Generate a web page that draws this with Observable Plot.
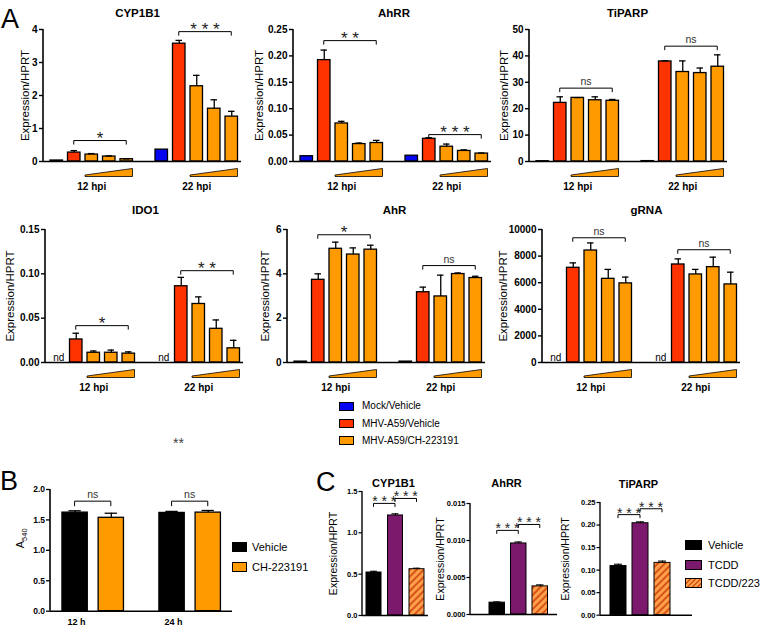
<!DOCTYPE html>
<html>
<head>
<meta charset="utf-8">
<script src="https://cdn.jsdelivr.net/npm/d3@7"></script>
<script src="https://cdn.jsdelivr.net/npm/@observablehq/plot@0.6"></script>
<style>
html,body{margin:0;padding:0;background:#fff;}
#fig{position:relative;width:760px;height:627px;overflow:hidden;background:#fff;font-family:"Liberation Sans",Arial,Helvetica,sans-serif;color:#000;}
.chart{position:absolute;}
.chart svg{display:block;max-width:none;overflow:visible;background:none;}
.legtxt{position:absolute;white-space:nowrap;transform:translateY(-50%);line-height:1;}
.sw{position:absolute;box-sizing:border-box;border:1px solid #000;}
</style>
</head>
<body>
<svg width="0" height="0" style="position:absolute">
  <defs>
    <pattern id="hatch" patternUnits="userSpaceOnUse" width="5" height="5" patternTransform="rotate(45)">
      <rect width="5" height="5" fill="#ffa04a"></rect>
      <rect width="2" height="5" fill="#d8531a"></rect>
    </pattern>
  </defs>
</svg>
<div id="fig"></div>
<script>
// ================= DATA =================
// Panel A
const genesA = ["CYP1B1", "AhRR", "TiPARP", "IDO1", "AhR", "gRNA"];
const timesA = ["12 hpi", "22 hpi"];
const condA = ["Mock/Vehicle", "MHV-A59/Vehicle", "MHV-A59/CH-223191", "MHV-A59/CH-223191", "MHV-A59/CH-223191"];
const legendA = ["Mock/Vehicle", "MHV-A59/Vehicle", "MHV-A59/CH-223191"];
// values: 12 hpi (mock, vehicle, CH low, mid, high), 22 hpi (same)
const cyp1b1Mean = [0.03, 0.27, 0.21, 0.15, 0.07, 0.36, 3.57, 2.28, 1.60, 1.36];
const cyp1b1Err  = [0, 0.06, 0.03, 0.02, 0.01, 0, 0.10, 0.33, 0.27, 0.16];
const ahrrMean = [0.010, 0.192, 0.072, 0.033, 0.035, 0.011, 0.043, 0.028, 0.020, 0.015];
const ahrrErr  = [0, 0.019, 0.004, 0.002, 0.005, 0, 0.002, 0.005, 0.002, 0.001];
const tiparpMean = [0.1, 22.2, 24.1, 23.2, 23.0, 0.15, 37.9, 33.9, 33.5, 35.9];
const tiparpErr  = [0, 2.3, 0.1, 1.3, 0.5, 0, 0.2, 4.2, 1.9, 4.5];
const ido1Mean = [null, 0.026, 0.011, 0.011, 0.010, null, 0.086, 0.066, 0.038, 0.016];
const ido1Err  = [null, 0.007, 0.002, 0.003, 0.002, null, 0.010, 0.008, 0.010, 0.009];
const ahrMean = [0.04, 3.73, 5.13, 4.87, 5.09, 0.04, 3.17, 2.98, 3.99, 3.81];
const ahrErr  = [0, 0.27, 0.30, 0.30, 0.20, 0, 0.23, 0.96, 0.05, 0.08];
const grnaMean = [null, 7120, 8420, 6290, 5950, null, 7370, 6620, 7170, 5870];
const grnaErr  = [null, 370, 570, 710, 470, null, 420, 380, 750, 920];
const meansA = [cyp1b1Mean, ahrrMean, tiparpMean, ido1Mean, ahrMean, grnaMean];
const errsA = [cyp1b1Err, ahrrErr, tiparpErr, ido1Err, ahrErr, grnaErr];
const yMaxA = [4, 0.25, 50, 0.15, 6, 10000];
const yStepA = [1, 0.05, 10, 0.05, 2, 2000];
const sigLabelsA = [["*", "***"], ["**", "***"], ["ns", "ns"], ["*", "**"], ["*", "ns"], ["ns", "ns"]];
const sigLevelsA = [[0.62, 3.92], [0.228, 0.050], [27.6, 43.5], [0.041, 0.103], [5.74, 4.35], [9340, 8440]];

// Panel B
const timesB = ["12 h", "24 h"];
const treatB = ["Vehicle", "CH-223191"];
const meanB = [1.62, 1.535, 1.615, 1.62];
const errB = [0.03, 0.075, 0.025, 0.035];
const sigLabelsB = ["ns", "ns"];
const sigLevelsB = [1.80, 1.80];

// Panel C
const genesC = ["CYP1B1", "AhRR", "TiPARP"];
const treatC = ["Vehicle", "TCDD", "TCDD/223"];
const cyp1b1C = [0.52, 1.21, 0.56];
const cyp1b1CErr = [0.015, 0.02, 0.012];
const ahrrC = [0.0016, 0.0096, 0.0038];
const ahrrCErr = [0.0001, 0.0002, 0.0002];
const tiparpC = [0.109, 0.204, 0.116];
const tiparpCErr = [0.004, 0.003, 0.004];
const meansC = [cyp1b1C, ahrrC, tiparpC];
const errsC = [cyp1b1CErr, ahrrCErr, tiparpCErr];
const yMaxC = [1.5, 0.015, 0.25];
const yStepC = [0.5, 0.005, 0.05];
const sigLabelsC = [["***", "***"], ["***", "***"], ["***", "***"]];
const sigLevelsC = [[1.35, 1.41], [0.0113, 0.0121], [0.222, 0.235]];

// ================= STYLE / LAYOUT =================
const colorsA = ["#0505f0", "#ff3300", "#ff9a00"];
const colorsB = ["#000000", "#ff9a00"];
const fillsC = ["#000000", "#7b1a6c", "url(#hatch)"];
const FONT = "'Liberation Sans', Arial, Helvetica, sans-serif";
const svgStyle = {fontFamily: FONT, fontSize: "10px", background: "none", overflow: "visible", color: "#000", maxWidth: "none"};

const fig = document.getElementById("fig");
function place(node, left, top) {
  // make the y-axis tick labels bold like the reference
  node.querySelectorAll('g[aria-label*="tick label"] text, g[aria-label*="tick label"]').forEach(el => {
    el.setAttribute("font-weight", "bold");
    el.style.fontWeight = "bold";
  });
  const div = document.createElement("div");
  div.className = "chart";
  div.style.left = left + "px";
  div.style.top = top + "px";
  div.appendChild(node);
  fig.appendChild(div);
}
function bandOpts(domain, g) {
  const n = domain.length, W = g.frameRight - g.axisX;
  const p = 1 - g.barW / g.step;
  const o = (W / g.step - n + p) / 2;
  const align = o > 0 ? Math.min(1, Math.max(0, (g.firstBar - g.axisX) / (2 * o * g.step))) : 0.5;
  return {type: "band", domain, paddingInner: p, paddingOuter: o, align, round: false, axis: null};
}
function ticksFor(max, step) { return d3.range(0, max + step / 2, step).map(v => +v.toFixed(6)); }
function axisLine(yMax, sw) {
  return (index, s, values, d) => {
    const g = d3.create("svg:g");
    g.append("line").attr("x1", d.marginLeft).attr("x2", d.marginLeft)
      .attr("y1", s.y(yMax)).attr("y2", s.y(0)).attr("stroke", "#000").attr("stroke-width", sw);
    return g.node();
  };
}
function bracketMark(items, o) {
  return (index, s, values, d) => {
    const g = d3.create("svg:g");
    const bw = s.x.bandwidth ? s.x.bandwidth() / 2 : 0;
    for (const it of items) {
      const xa = s.x(it.a) + bw, xb = s.x(it.b) + bw, y = s.y(it.y);
      g.append("path").attr("d", `M${xa},${y + o.tick}V${y}H${xb}V${y + o.tick}`)
        .attr("fill", "none").attr("stroke", "#000").attr("stroke-width", o.sw);
      const star = it.text.includes("*");
      g.append("text").attr("x", (xa + xb) / 2).attr("y", star ? y + o.starDy : y - o.nsGap)
        .attr("text-anchor", "middle").attr("font-size", star ? o.starSize : o.nsSize)
        .attr("fill", star ? "#222" : "#333")
        .text(star ? it.text.split("").join(" ") : it.text);
    }
    return g.node();
  };
}
function wedgeMark(items, fill) {
  return (index, s, values, d) => {
    const g = d3.create("svg:g");
    const bw = s.x.bandwidth();
    const y0 = s.y(0);
    for (const it of items) {
      const L = s.x(it.a), R = s.x(it.b) + bw;
      g.append("path").attr("d", `M${L},${y0 + 14}L${R},${y0 + 7.5}L${R},${y0 + 15.5}L${L},${y0 + 15.5}Z`)
        .attr("fill", fill).attr("stroke", "#000").attr("stroke-width", 0.8);
    }
    return g.node();
  };
}

// ================= PANEL A =================
const slotA = ["s0", "s1", "s2", "s3", "s4", "gap", "s6", "s7", "s8", "s9", "s10"];
const slotOf = (t, k) => slotA[t * 6 + k];
const axisXA = [43, 293, 529, 45, 287, 542];
const rowGeomA = [{top: 28.5, zero: 160.5, titleDy: -16.5}, {top: 228.5, zero: 361.5, titleDy: -19.5}];
const titleDxA = [-5, 1.5, -1, 1, 8, 5];
const ylabDxA = [-18, -34, -25, -35, -22, -39];
const fmtA = ["d", ".2f", "d", ".2f", "d", "d"];

genesA.forEach((gene, i) => {
  const rows = [];
  timesA.forEach((tl, t) => condA.forEach((c, k) => {
    const idx = t * 5 + k;
    rows.push({slot: slotOf(t, k), cond: c, mean: meansA[i][idx], err: errsA[i][idx]});
  }));
  const barRows = rows.filter(d => d.mean != null);
  const errRows = barRows.filter(d => d.err > 0);
  const ndRows = rows.filter(d => d.mean == null);
  const sig = timesA.map((tl, t) => ({a: slotOf(t, 1), b: slotOf(t, 4), y: sigLevelsA[i][t], text: sigLabelsA[i][t]}));
  const wedges = timesA.map((tl, t) => ({a: slotOf(t, 2), b: slotOf(t, 4)}));
  const timeRows = timesA.map((tl, t) => ({slot: slotOf(t, 2), label: tl}));
  const geom = {axisX: axisXA[i], firstBar: axisXA[i] + 7, step: 17.5, barW: 12.5, frameRight: axisXA[i] + 198};
  const row = rowGeomA[i < 3 ? 0 : 1];
  const mL = 50, mT = 30, mR = 6, mB = 40;
  const plot = Plot.plot({
    width: mL + 198 + mR, height: mT + (row.zero - row.top) + mB,
    marginLeft: mL, marginTop: mT, marginRight: mR, marginBottom: mB,
    style: svgStyle,
    x: bandOpts(slotA, geom),
    y: {domain: [0, yMaxA[i]]},
    color: {domain: legendA, range: colorsA},
    marks: [
      Plot.barY(barRows, {x: "slot", y: "mean", fill: "cond", stroke: "#000", strokeWidth: 1.3}),
      Plot.ruleX(errRows, {x: "slot", y1: "mean", y2: d => d.mean + d.err, stroke: "#000", strokeWidth: 1.3}),
      Plot.tickY(errRows, {x: "slot", y: d => d.mean + d.err, insetLeft: 3, insetRight: 3, stroke: "#000", strokeWidth: 1.3}),
      Plot.ruleY([0], {stroke: "#000", strokeWidth: 1.6}),
      Plot.axisY({ticks: ticksFor(yMaxA[i], yStepA[i]), tickFormat: d3.format(fmtA[i]), tickSize: 4, tickPadding: 2,
        fontSize: 10, fontWeight: "bold", label: null, strokeWidth: 1.4}),
      axisLine(yMaxA[i], 1.6),
      bracketMark(sig, {tick: 4, sw: 1, starDy: 3.5, nsGap: 3, starSize: 17, nsSize: 10.5}),
      wedgeMark(wedges, colorsA[2]),
      Plot.text(timeRows, {x: "slot", text: "label", frameAnchor: "bottom", lineAnchor: "middle", dy: 25, fontWeight: "bold", fontSize: 10}),
      Plot.text(ndRows, {x: "slot", y: 0, text: () => "nd", lineAnchor: "middle", dy: -5, fontSize: 10}),
      Plot.text([gene], {text: d => d, frameAnchor: "top", lineAnchor: "middle", textAnchor: "middle", dy: row.titleDy, dx: titleDxA[i], fontWeight: "bold", fontSize: 11.5}),
      Plot.text(["Expression/HPRT"], {text: d => d, frameAnchor: "left", lineAnchor: "middle", textAnchor: "middle", rotate: -90, dx: ylabDxA[i], fontSize: 11.5})
    ]
  });
  place(plot, geom.axisX - mL, row.top - mT);
});

// ================= PANEL B =================
{
  const groupGap = 2.68;
  const rows = [];
  timesB.forEach((tl, t) => treatB.forEach((tr, k) => {
    rows.push({pos: t * groupGap + k, treat: tr, mean: meanB[t * 2 + k], err: errB[t * 2 + k]});
  }));
  const sig = timesB.map((tl, t) => ({a: t * groupGap, b: t * groupGap + 1, y: sigLevelsB[t], text: sigLabelsB[t]}));
  const timeRows = timesB.map((tl, t) => ({pos: t * groupGap + 0.04, label: tl}));
  const top = 489.3, zero = 611, axisX = 50, frameRight = 232;
  const mL = 50, mT = 25, mR = 5, mB = 16;
  const plot = Plot.plot({
    width: mL + (frameRight - axisX) + mR, height: mT + (zero - top) + mB,
    marginLeft: mL, marginTop: mT, marginRight: mR, marginBottom: mB,
    style: svgStyle,
    x: {domain: [-0.68, 4.35], axis: null},
    y: {domain: [0, 2]},
    color: {domain: treatB, range: colorsB},
    marks: [
      Plot.rectY(rows, {x1: d => d.pos - 0.35, x2: d => d.pos + 0.35, y: "mean", fill: "treat", stroke: "#000", strokeWidth: 1.3}),
      Plot.ruleX(rows, {x: "pos", y1: "mean", y2: d => d.mean + d.err, stroke: "#000", strokeWidth: 1.3}),
      Plot.ruleY(rows, {x1: d => d.pos - 0.17, x2: d => d.pos + 0.17, y: d => d.mean + d.err, stroke: "#000", strokeWidth: 1.3}),
      Plot.ruleY([0], {stroke: "#000", strokeWidth: 1.6}),
      Plot.axisY({ticks: ticksFor(2, 0.5), tickFormat: d3.format(".1f"), tickSize: 4, tickPadding: 1.5,
        fontSize: 8.5, fontWeight: "bold", label: null, strokeWidth: 1.3}),
      axisLine(2, 1.6),
      bracketMark(sig, {tick: 5, sw: 1, starDy: 3.5, nsGap: 3, starSize: 17, nsSize: 10.5}),
      Plot.text(timeRows, {x: "pos", text: "label", frameAnchor: "bottom", lineAnchor: "middle", dy: 11, fontWeight: "bold", fontSize: 9}),
      (index, s, values, d) => {
        const g = d3.create("svg:g");
        const t = g.append("text").attr("transform", `translate(24,${(s.y(2) + s.y(0)) / 2 - 11.5}) rotate(-90)`)
          .attr("text-anchor", "middle").attr("font-size", 11);
        t.append("tspan").text("A");
        t.append("tspan").attr("dy", 3).attr("font-size", 7.5).text("540");
        return g.node();
      }
    ]
  });
  place(plot, axisX - mL, top - mT);
}

// ================= PANEL C =================
const geomC = [
  {axisX: 362, top: 491, zero: 615, firstBar: 366, step: 21.5, barW: 15, frameRight: 428},
  {axisX: 470, top: 503.3, zero: 614.3, firstBar: 489, step: 21.5, barW: 15.5, frameRight: 557},
  {axisX: 600, top: 502.3, zero: 615, firstBar: 610, step: 22, barW: 16, frameRight: 692}
];
const titleYC = [483, 483, 484];
const titleDxC = [-2, -7.5, -8];
const ylabDxC = [-29, -30, -35];
const fmtC = [".1f", ".3f", ".2f"];
genesC.forEach((gene, i) => {
  const g = geomC[i];
  const rows = treatC.map((tr, k) => ({treat: tr, mean: meansC[i][k], err: errsC[i][k]}));
  const sig = [
    {a: treatC[0], b: treatC[1], y: sigLevelsC[i][0], text: sigLabelsC[i][0]},
    {a: treatC[1], b: treatC[2], y: sigLevelsC[i][1], text: sigLabelsC[i][1]}
  ];
  const mL = 45, mT = 28, mR = 5, mB = 10;
  const plot = Plot.plot({
    width: mL + (g.frameRight - g.axisX) + mR, height: mT + (g.zero - g.top) + mB,
    marginLeft: mL, marginTop: mT, marginRight: mR, marginBottom: mB,
    style: svgStyle,
    x: bandOpts(treatC, g),
    y: {domain: [0, yMaxC[i]]},
    color: {domain: treatC, range: fillsC},
    marks: [
      Plot.barY(rows, {x: "treat", y: "mean", fill: "treat", stroke: "#000", strokeWidth: 1}),
      Plot.ruleX(rows, {x: "treat", y1: "mean", y2: d => d.mean + d.err, stroke: "#000", strokeWidth: 1.1}),
      Plot.tickY(rows, {x: "treat", y: d => d.mean + d.err, insetLeft: 4, insetRight: 4, stroke: "#000", strokeWidth: 1.1}),
      Plot.ruleY([0], {stroke: "#000", strokeWidth: 1.4}),
      Plot.axisY({ticks: ticksFor(yMaxC[i], yStepC[i]), tickFormat: d3.format(fmtC[i]), tickSize: 3.5, tickPadding: 1.5,
        fontSize: 7.5, fontWeight: "bold", label: null, strokeWidth: 1.2}),
      axisLine(yMaxC[i], 1.4),
      bracketMark(sig, {tick: 3.5, sw: 1, starDy: 3, nsGap: 3, starSize: 14, nsSize: 10}),
      Plot.text([gene], {text: d => d, frameAnchor: "top", lineAnchor: "middle", textAnchor: "middle", dy: titleYC[i] - g.top, dx: titleDxC[i], fontWeight: "bold", fontSize: 11}),
      Plot.text(["Expression/HPRT"], {text: d => d, frameAnchor: "left", lineAnchor: "middle", textAnchor: "middle", rotate: -90, dx: ylabDxC[i], fontSize: 10.5})
    ]
  });
  place(plot, g.axisX - mL, g.top - mT);
});

// ================= LEGENDS =================
function legend(items, fills, o) {
  items.forEach((name, i) => {
    const sw = document.createElement("div");
    sw.className = "sw";
    sw.style.left = o.x + "px";
    sw.style.top = (o.ys[i] - o.h / 2) + "px";
    sw.style.width = o.w + "px";
    sw.style.height = o.h + "px";
    sw.style.background = fills[i] === "url(#hatch)"
      ? "repeating-linear-gradient(135deg, #ffa04a 0px, #ffa04a 2.2px, #d8531a 2.2px, #d8531a 3.6px)"
      : fills[i];
    fig.appendChild(sw);
    const tx = document.createElement("div");
    tx.className = "legtxt";
    tx.style.left = o.tx + "px";
    tx.style.top = o.ys[i] + "px";
    tx.style.fontSize = o.fs + "px";
    tx.textContent = name;
    fig.appendChild(tx);
  });
}
legend(legendA, colorsA, {x: 339, ys: [406, 423.5, 440.5], w: 15, h: 9, tx: 362, fs: 10});
legend(treatB, colorsB, {x: 232, ys: [547, 567], w: 15, h: 10, tx: 252, fs: 11});
legend(treatC, fillsC, {x: 685, ys: [545, 564.5, 583], w: 17, h: 10, tx: 708, fs: 11});

// ================= PANEL LETTERS / STRAY TEXT =================
const ns = "http://www.w3.org/2000/svg";
const over = document.createElementNS(ns, "svg");
over.setAttribute("width", 760); over.setAttribute("height", 627);
over.style.cssText = "position:absolute;left:0;top:0;pointer-events:none;font-family:" + FONT;
const panelLetters = [["A", 1, 28], ["B", 0, 490], ["C", 316, 491]];
panelLetters.forEach(([t, x, y]) => {
  const el = document.createElementNS(ns, "text");
  el.setAttribute("x", x); el.setAttribute("y", y); el.setAttribute("font-size", 27);
  el.textContent = t; over.appendChild(el);
});
const stray = document.createElementNS(ns, "text");
stray.setAttribute("x", 178.5); stray.setAttribute("y", 448); stray.setAttribute("font-size", 14);
stray.setAttribute("text-anchor", "middle"); stray.setAttribute("fill", "#444");
stray.textContent = "**"; over.appendChild(stray);
fig.appendChild(over);
</script>
</body>
</html>
